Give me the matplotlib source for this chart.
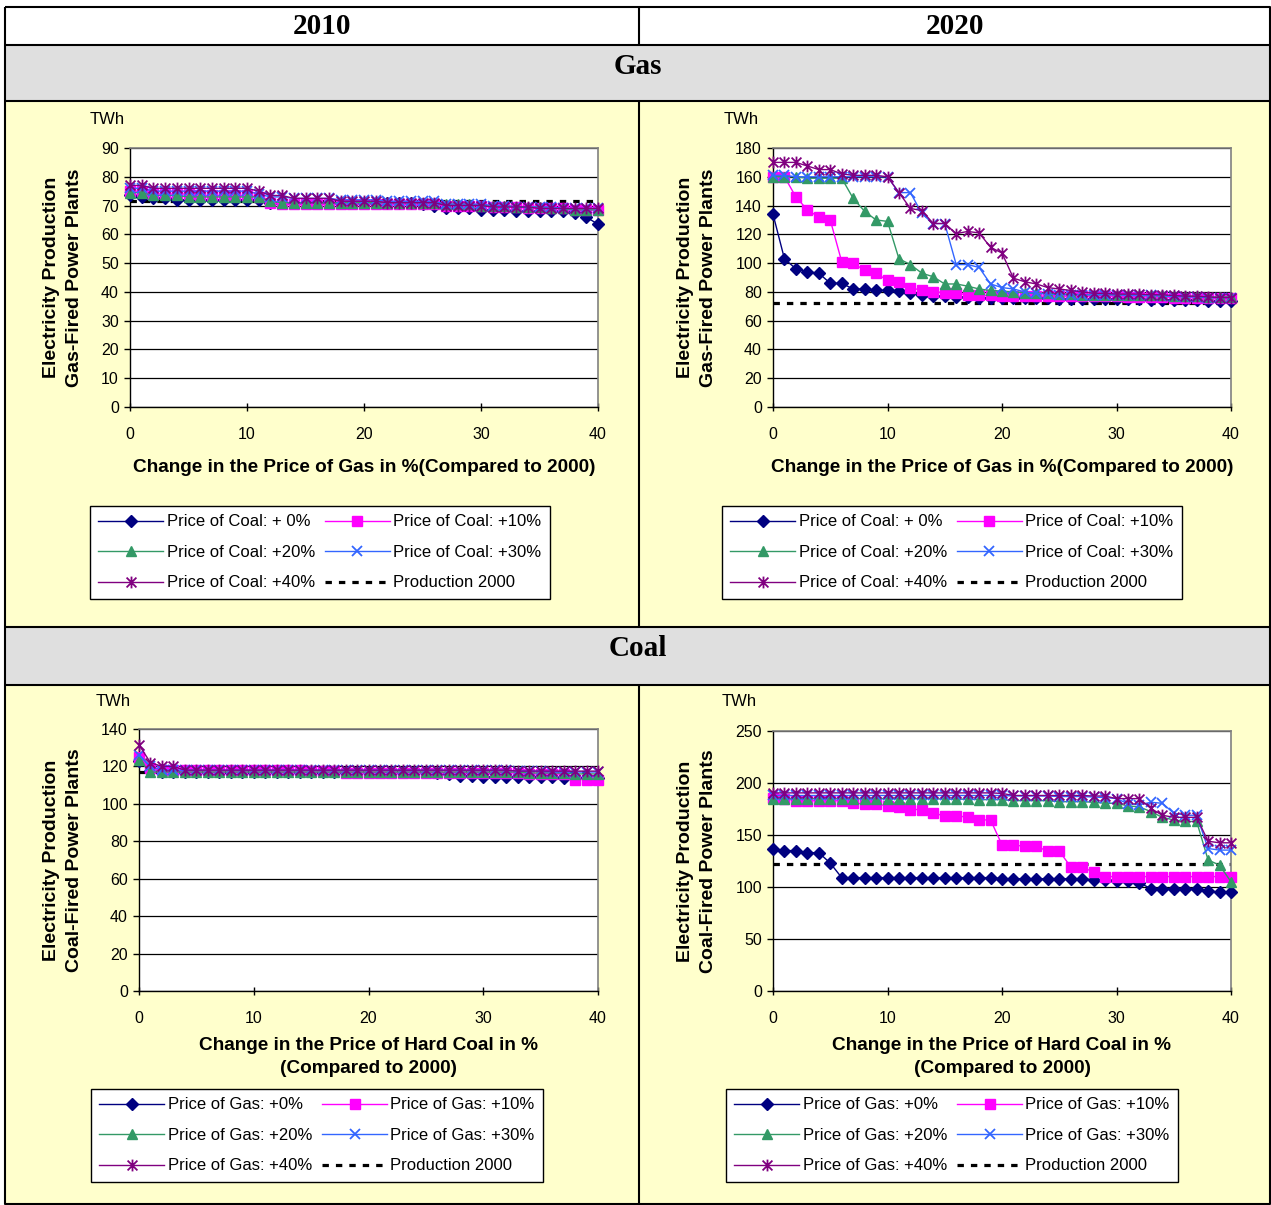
import numpy as np
import matplotlib.pyplot as plt
from matplotlib.path import Path
from matplotlib.patches import Rectangle

plt.rcParams['font.family'] = ['Liberation Sans', 'DejaVu Sans']

W, H = 1271, 1205

# change in price (%), same for all four charts
x_pct = list(range(41))

# ---- Gas-fired production, 2010 (TWh) ----
gas10_c0 = [73.5, 73, 72.5, 72.5, 72, 72, 72, 72, 72, 72, 72, 72, 71, 71, 71, 71, 71, 71, 71, 71,
            71, 71, 71, 71, 71, 70.5, 70, 69, 69, 69, 68.5, 68.5, 68.5, 68, 68, 68, 68, 68, 67.5, 66, 63.5]
gas10_c10 = [75, 75, 74, 74, 74, 74, 73.5, 73.5, 73.5, 73.5, 73.5, 73, 71, 70.5, 70.5, 70.5, 70.5, 70.5, 70.5, 70.5,
             70.5, 70.5, 70.5, 70.5, 70.5, 70.5, 70.5, 70, 70, 70, 70, 69.5, 69.5, 69.5, 69, 69, 69, 69, 68.5, 68.5, 68.5]
gas10_c20 = [74.5, 74.5, 73.5, 73.5, 73.5, 73, 73, 73, 73, 73, 73, 73, 71.5, 71, 71, 71, 71, 71, 71, 71,
             71, 71, 71, 71, 71, 71, 71, 70.5, 70.5, 70.5, 70, 70, 70, 69.5, 69.5, 69.5, 69, 69, 68.5, 68.5, 68.5]
gas10_c30 = [76, 76, 75, 75, 75, 75, 75, 75, 75, 75, 75, 74, 73, 73, 72.5, 72.5, 72.5, 72.5, 72, 72,
             72, 72, 71.5, 71.5, 71.5, 71.5, 71.5, 70.5, 70.5, 70.5, 70.5, 70, 70, 69.5, 69.5, 69.5, 69.5, 69, 69, 69, 69]
gas10_c40 = [77, 77, 76, 76, 76, 76, 76, 76, 76, 76, 76, 75, 73.5, 73.5, 72.5, 72.5, 72.5, 72.5, 71.5, 71.5,
             71.5, 71.5, 71, 71, 71, 71, 71, 70, 70, 70, 70, 69.5, 69.5, 69.5, 69.5, 69, 69, 69, 69, 69, 69]
gas10_prod = 71.5

# ---- Gas-fired production, 2020 (TWh) ----
gas20_c0 = [134, 103, 96, 94, 93, 86, 86, 82, 82, 81, 81, 80.5, 79, 78, 77, 77, 76.5, 76.5, 76, 76,
            76, 75.5, 75.5, 75.5, 75.5, 75, 75, 75, 75, 75, 75, 75, 75, 74.5, 74.5, 74.5, 74.5, 74.5, 74, 74, 74]
gas20_c10 = [160, 160, 146, 137, 132, 130, 101, 100, 95, 93, 88, 87, 83, 81, 80, 79.5, 79, 78, 77.5, 77.5,
             77, 77, 77, 77, 77, 77, 77, 77, 77, 77, 77, 76.5, 76.5, 76.5, 76.5, 76, 76, 76, 75.5, 75.5, 75.5]
gas20_c20 = [160, 160, 160, 159, 159, 159, 159, 145, 136, 130, 129, 103, 99, 93, 90.5, 85.5, 85.5, 84, 82, 81,
             80.5, 80, 79.5, 79, 79, 78.5, 78.5, 78, 78, 78, 78, 78, 77.5, 77.5, 77.5, 77, 77, 77, 76.5, 76.5, 76.5]
gas20_c30 = [161, 161, 160, 160, 160, 160, 160, 160, 160, 160, 160, 149, 149, 134.5, 127.5, 127.5, 99, 99, 97, 85.5,
             83, 82, 80, 79, 78.5, 78, 78, 78, 78, 78, 78, 77.5, 77.5, 77.5, 77, 77, 76.5, 76.5, 76, 76, 76]
gas20_c40 = [170, 170, 170, 167.5, 165, 165, 162, 161, 161, 161, 160, 149, 138, 136.5, 127.5, 127.5, 120.5, 122, 121, 111,
             107, 89.5, 87, 85.5, 83, 82, 81, 80, 79, 79, 78.5, 78.5, 78.5, 78, 78, 77.5, 77, 77, 76.5, 76, 76]
gas20_prod = 72

# ---- Coal-fired production, 2010 (TWh) ----
coal10_g0 = [123, 117.5, 117, 117, 117, 117, 117, 117, 117, 117, 117, 117, 117, 117, 117, 117, 117, 117, 117, 117,
             117, 117, 117, 117, 117, 117, 116.5, 116, 115, 115, 114.5, 114.5, 114.5, 114.5, 114.5, 114.5, 114.5, 114, 114, 114, 114]
coal10_g10 = [125, 119, 118, 118, 118, 118, 118, 118, 118, 118, 118, 118, 118, 118, 118, 117.5, 117.5, 117.5, 116.5, 116.5,
              116.5, 116.5, 116.5, 116.5, 116.5, 116.5, 116.5, 116.5, 116.5, 116.5, 116.5, 116.5, 116.5, 116.5, 116, 116, 116, 116, 113, 113, 113]
coal10_g20 = [123.5, 117, 117, 117, 117, 117, 117, 117, 117, 117, 117, 117, 117, 117, 117, 117, 117, 117, 117, 117,
              117, 117, 117, 117, 117, 117, 117, 117, 117, 117, 117, 117, 117, 117, 116.5, 116.5, 116.5, 116.5, 116, 116, 116]
coal10_g30 = [126, 120, 118, 118, 118, 118, 118, 118, 118, 118, 118, 118, 118, 118, 118, 118, 118, 118, 118, 118,
              118, 118, 118, 118, 118, 118, 118, 118, 118, 118, 118, 118, 118, 117.5, 117.5, 117.5, 117, 117, 117, 117, 117]
coal10_g40 = [131.5, 122, 120, 120, 118, 118, 118, 118, 118, 118, 118, 118, 118, 118, 118, 118, 118, 118, 118, 118,
              118, 118, 118, 118, 118, 118, 118, 118, 118, 118, 118, 118, 118, 117.5, 117.5, 117.5, 117.5, 117.5, 117.5, 117.5, 117.5]
coal10_prod = 117

# ---- Coal-fired production, 2020 (TWh) ----
coal20_g0 = [137, 135, 135, 133, 133, 123, 109, 109, 109, 109, 109, 109, 109, 109, 109, 109, 109, 109, 109, 109,
             108, 108, 108, 108, 108, 108, 108, 108, 107, 107, 106, 106, 104, 98.5, 98.5, 98.5, 98.5, 98.5, 96.5, 95, 95]
coal20_g10 = [186, 185, 183, 183, 183, 183, 183, 180.5, 180, 180, 178, 176.5, 174.5, 174.5, 171.5, 168, 168, 167.5, 164.5, 164.5,
              140.5, 140.5, 139, 139, 134.5, 134.5, 119.5, 119.5, 114, 110, 110, 110, 110, 110, 110, 110, 110, 110, 110, 110, 110]
coal20_g20 = [185, 185, 185, 185, 185, 185, 185, 185, 185, 185, 185, 185, 185, 185, 185, 184.5, 184.5, 184.5, 184, 184,
              184, 183, 183, 183, 183, 182, 182, 182, 181.5, 180.5, 180.5, 178, 177, 172.5, 167, 164.5, 163, 163, 126, 121, 105]
coal20_g30 = [188, 188, 188, 188, 188, 188, 188, 188, 188, 188, 188, 188, 188, 188, 188, 188, 188, 188, 188, 188,
              188, 187.5, 187.5, 187.5, 187.5, 187, 187, 187, 186.5, 186, 185, 180, 179, 181.5, 180.5, 171, 169, 169, 137, 135.5, 135.5]
coal20_g40 = [190.5, 190.5, 190.5, 190.5, 190.5, 190.5, 190.5, 190.5, 190.5, 190.5, 190.5, 190.5, 190.5, 190.5, 190.5, 190.5, 190.5, 190.5, 190.5, 190.5,
              190, 188, 188, 188, 188, 188, 188, 188, 187.5, 187.5, 185, 185, 185, 175.5, 169, 167, 167, 167, 144, 142.5, 142.5]
coal20_prod = 122

coal_labels = ['Price of Coal: + 0%', 'Price of Coal: +10%', 'Price of Coal: +20%',
               'Price of Coal: +30%', 'Price of Coal: +40%']
gas_labels = ['Price of Gas: +0%', 'Price of Gas: +10%', 'Price of Gas: +20%',
              'Price of Gas: +30%', 'Price of Gas: +40%']

# Excel style "star": an x with a vertical bar through it
star = Path([(-1, -1), (1, 1), (-1, 1), (1, -1), (0, -1.2), (0, 1.2)],
            [Path.MOVETO, Path.LINETO, Path.MOVETO, Path.LINETO, Path.MOVETO, Path.LINETO])

styles = [
    dict(color='#000080', marker='D', ms=6.3),
    dict(color='#FF00FF', marker='s', ms=7),
    dict(color='#339966', marker='^', ms=7.5),
    dict(color='#3366FF', marker='x', ms=7.5, mew=1.3),
    dict(color='#800080', marker=star, ms=8.5, mew=1.3),
]
YELLOW = '#FFFFCC'
GRAY = '#DFDFDF'

fig = plt.figure(figsize=(W / 100, H / 100), dpi=100)

# ---- table background ----
bg = fig.add_axes([0, 0, 1, 1])
bg.set_xlim(0, W)
bg.set_ylim(H, 0)
bg.axis('off')
bg.add_patch(Rectangle((5, 7), 1265, 38, fc='white', ec='none'))
bg.add_patch(Rectangle((5, 45), 1265, 56, fc=GRAY, ec='none'))
bg.add_patch(Rectangle((5, 101), 1265, 526, fc=YELLOW, ec='none'))
bg.add_patch(Rectangle((5, 627), 1265, 58, fc=GRAY, ec='none'))
bg.add_patch(Rectangle((5, 685), 1265, 520, fc=YELLOW, ec='none'))
lk = dict(color='black', lw=1.5, solid_capstyle='butt')
bg.plot([5, 1270, 1270, 5, 5], [7, 7, 1204, 1204, 7], **lk)
for yy in [45, 101, 627, 685]:
    bg.plot([5, 1270], [yy, yy], **lk)
for y0, y1 in [(7, 45), (101, 627), (685, 1204)]:
    bg.plot([639, 639], [y0, y1], **lk)
hk = dict(family=['Liberation Serif', 'DejaVu Serif'], weight='bold', fontsize=21,
          ha='center', va='center')
bg.text(322, 27, '2010', **hk)
bg.text(955, 27, '2020', **hk)
bg.text(638, 67, 'Gas', **hk)
bg.text(638, 648, 'Coal', **hk)


def chart(box, ymax, ystep, series, prod, labels, xlabel, xlabel_y, ylabel,
          ylabel_x, twh_x, twh_y, leg_xy):
    l, t, r, b = box
    ax = fig.add_axes([l / W, 1 - b / H, (r - l) / W, (b - t) / H])
    ax.set_facecolor('white')
    for ys, st, lab in zip(series, styles, labels):
        ax.plot(x_pct, ys, lw=1.0, label=lab, clip_on=False, zorder=3, **st)
    ax.plot(x_pct, [prod] * len(x_pct), color='black', lw=2.3,
            ls=(0, (2.0, 2.2)), label='Production 2000', zorder=2)
    ax.set_xlim(0, 40)
    ax.set_ylim(0, ymax)
    ax.set_xticks([0, 10, 20, 30, 40])
    ax.set_yticks(np.arange(0, ymax + 1, ystep))
    ax.yaxis.grid(True, color='black', lw=0.9)
    ax.set_axisbelow(True)
    for s in ['top', 'right']:
        ax.spines[s].set_color('#808080')
        ax.spines[s].set_linewidth(1.2)
    for s in ['left', 'bottom']:
        ax.spines[s].set_color('black')
        ax.spines[s].set_linewidth(1.0)
    ax.tick_params(axis='y', direction='out', length=4, width=1, pad=4, labelsize=11.5)
    ax.tick_params(axis='x', direction='inout', length=6, width=1, pad=11.5, labelsize=11.5)

    fig.text(ylabel_x / W, 1 - (t + b) / 2 / H, ylabel, rotation=90, ha='center',
             va='center', fontsize=14, weight='bold', linespacing=1.4,
             multialignment='center')
    fig.text(twh_x / W, 1 - twh_y / H, 'TWh', ha='center', va='center', fontsize=12)
    fig.text((l + r) / 2 / W, 1 - xlabel_y / H, xlabel, ha='center', va='center',
             fontsize=13.7, weight='bold', linespacing=1.5)

    h, lb = ax.get_legend_handles_labels()
    order = [0, 2, 4, 1, 3, 5]
    leg = fig.legend([h[i] for i in order], [lb[i] for i in order], ncol=2,
                     loc='upper left', bbox_to_anchor=(leg_xy[0] / W, 1 - leg_xy[1] / H),
                     fontsize=12, frameon=True, fancybox=False, edgecolor='black',
                     framealpha=1, borderpad=0.5, handlelength=3.9, handletextpad=0.2,
                     columnspacing=0.6, labelspacing=0.93, numpoints=1,
                     borderaxespad=0)
    leg.get_frame().set_linewidth(1.0)
    return ax


chart((130, 148, 598, 407), 90, 10,
      [gas10_c0, gas10_c10, gas10_c20, gas10_c30, gas10_c40], gas10_prod, coal_labels,
      'Change in the Price of Gas in %(Compared to 2000)', 468,
      'Electricity Production\nGas-Fired Power Plants', 63, 107, 119, (90, 506))
chart((773, 148, 1231, 407), 180, 20,
      [gas20_c0, gas20_c10, gas20_c20, gas20_c30, gas20_c40], gas20_prod, coal_labels,
      'Change in the Price of Gas in %(Compared to 2000)', 468,
      'Electricity Production\nGas-Fired Power Plants', 697, 741, 119, (722, 506))
chart((139, 729, 598, 991), 140, 20,
      [coal10_g0, coal10_g10, coal10_g20, coal10_g30, coal10_g40], coal10_prod, gas_labels,
      'Change in the Price of Hard Coal in %\n(Compared to 2000)', 1057,
      'Electricity Production\nCoal-Fired Power Plants', 63, 113, 701, (91, 1089))
chart((773, 731, 1231, 991), 250, 50,
      [coal20_g0, coal20_g10, coal20_g20, coal20_g30, coal20_g40], coal20_prod, gas_labels,
      'Change in the Price of Hard Coal in %\n(Compared to 2000)', 1057,
      'Electricity Production\nCoal-Fired Power Plants', 697, 739, 702, (726, 1089))

fig.savefig('out.png', dpi=100)
